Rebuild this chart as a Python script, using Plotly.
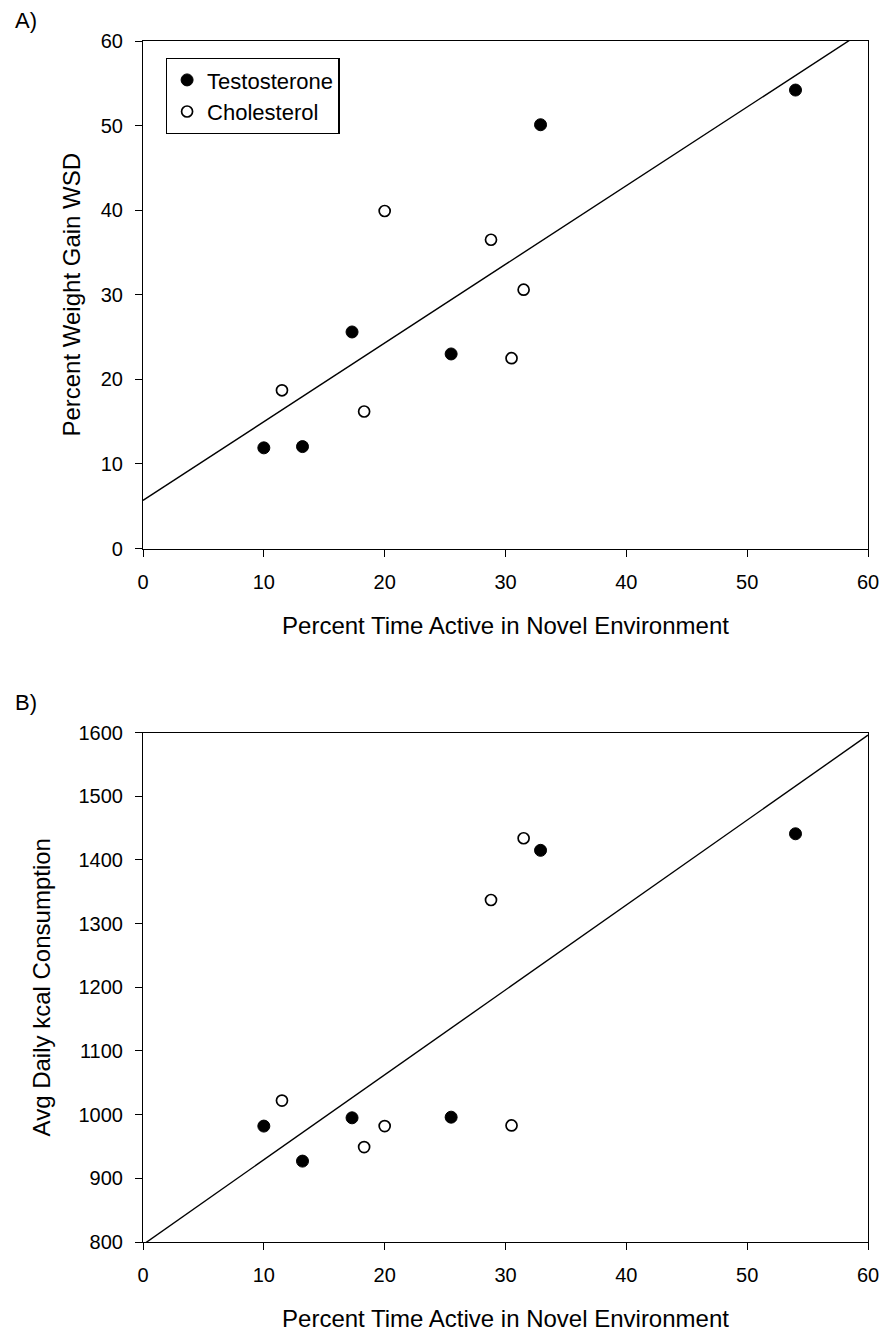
import numpy as np
import plotly.graph_objects as go
from plotly.subplots import make_subplots

# Percent time active in a novel environment (x), shared by both panels
testo_active = [10.0, 13.2, 17.3, 25.5, 32.9, 54.0]
chol_active = [11.5, 18.3, 20.0, 28.8, 30.5, 31.5]

# Panel A: percent weight gain on WSD
testo_gain = [11.9, 12.05, 25.6, 23.0, 50.1, 54.2]
chol_gain = [18.7, 16.2, 39.9, 36.5, 22.5, 30.6]

# Panel B: average daily kcal consumption
testo_kcal = [982, 927, 995, 996, 1415, 1441]
chol_kcal = [1022, 949, 982, 1337, 983, 1434]

x_range = [0, 60]
x_ticks = [0, 10, 20, 30, 40, 50, 60]
gain_ticks = [0, 10, 20, 30, 40, 50, 60]
kcal_ticks = [800, 900, 1000, 1100, 1200, 1300, 1400, 1500, 1600]

FONT = "Liberation Sans, Arial, sans-serif"

fig = make_subplots(rows=2, cols=1, vertical_spacing=0.0)


def add_panel(row, ty, cy, show_legend):
    xs = np.array(testo_active + chol_active)
    ys = np.array(ty + cy, dtype=float)
    slope, intercept = np.polyfit(xs, ys, 1)
    fx = np.array(x_range, dtype=float)
    fig.add_trace(go.Scatter(x=fx, y=slope * fx + intercept, mode="lines",
                             line=dict(color="black", width=1.4),
                             showlegend=False, hoverinfo="skip"),
                  row=row, col=1)
    fig.add_trace(go.Scatter(x=testo_active, y=ty, mode="markers", name="Testosterone",
                             marker=dict(symbol="circle", size=12, color="black",
                                         line=dict(color="black", width=1)),
                             showlegend=show_legend),
                  row=row, col=1)
    fig.add_trace(go.Scatter(x=chol_active, y=cy, mode="markers", name="Cholesterol",
                             marker=dict(symbol="circle", size=11, color="white",
                                         line=dict(color="black", width=1.7)),
                             showlegend=show_legend),
                  row=row, col=1)


add_panel(1, testo_gain, chol_gain, True)
add_panel(2, testo_kcal, chol_kcal, False)

axis_common = dict(showline=True, linecolor="black", linewidth=1.2, mirror=True,
                   ticks="outside", ticklen=7, tickwidth=1.2, tickcolor="black",
                   showgrid=False, zeroline=False,
                   tickfont=dict(family=FONT, size=20, color="black"))

W, H = 891, 1340
ml, mr, mt, mb = 143, 16, 41, 85
ph = H - mt - mb

def ydom(top_px, bottom_px):
    return [(H - mb - bottom_px) / ph, (H - mb - top_px) / ph]

fig.update_xaxes(range=x_range, tickvals=x_ticks, ticklabelstandoff=8,
                 title=dict(text="Percent Time Active in Novel Environment",
                            font=dict(family=FONT, size=24, color="black"), standoff=25),
                 **axis_common)
fig.update_yaxes(ticklabelstandoff=8, **axis_common)
fig.update_yaxes(range=[0, 60], tickvals=gain_ticks, domain=ydom(41, 554),
                 title=dict(text="Percent Weight Gain WSD",
                            font=dict(family=FONT, size=24, color="black"), standoff=13),
                 row=1, col=1)
fig.update_yaxes(range=[800, 1600], tickvals=kcal_ticks, domain=ydom(740, 1255),
                 title=dict(text="Avg Daily kcal Consumption",
                            font=dict(family=FONT, size=24, color="black"), standoff=20),
                 row=2, col=1)

fig.add_annotation(text="A)", xref="paper", yref="paper", x=(12 - ml) / (W - ml - mr),
                   y=(H - mb - 20) / ph, xanchor="left", yanchor="middle", showarrow=False,
                   font=dict(family=FONT, size=22, color="black"))
fig.add_annotation(text="B)", xref="paper", yref="paper", x=(12 - ml) / (W - ml - mr),
                   y=(H - mb - 710) / ph, xanchor="left", yanchor="middle", showarrow=False,
                   font=dict(family=FONT, size=22, color="black"))

fig.update_layout(
    width=W, height=H,
    margin=dict(l=ml, r=mr, t=mt, b=mb),
    paper_bgcolor="white", plot_bgcolor="white",
    font=dict(family=FONT, color="black"),
    legend=dict(x=(166 - ml) / (W - ml - mr), y=(H - mb - 58) / ph,
                xanchor="left", yanchor="top",
                bordercolor="black", borderwidth=1.3, bgcolor="white",
                font=dict(family=FONT, size=22, color="black"),
                itemwidth=30, tracegroupgap=0),
)

fig.write_html("out.html")
